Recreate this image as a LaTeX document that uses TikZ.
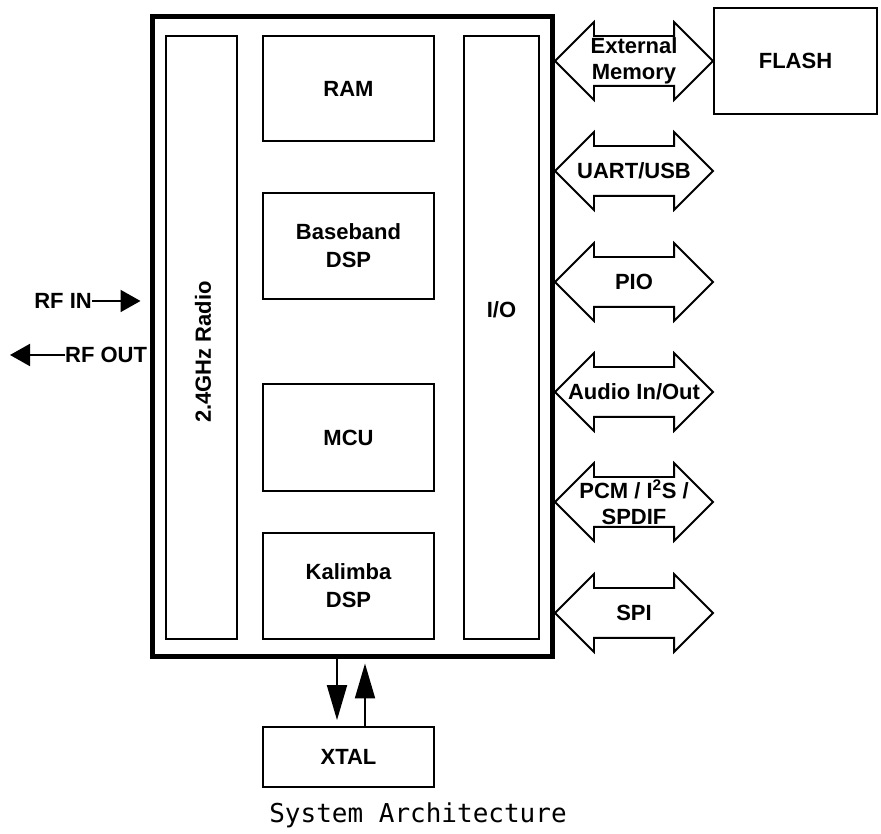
\documentclass[tikz,border=0pt]{standalone}
\usepackage{fontspec}
\setmainfont{Liberation Sans}
\newfontfamily\capfont{DejaVu Sans Mono}
\usetikzlibrary{arrows.meta,calc,positioning,shapes.arrows}

\begin{document}
\begin{tikzpicture}[x=1pt,y=1pt,
  blk/.style={draw,line width=2.2pt,inner sep=0pt,align=center,font=\bfseries\fontsize{22}{28}\selectfont},
  bus/.style={double arrow,draw,line width=1.8pt,inner xsep=0pt,inner ysep=24pt,minimum height=158pt,double arrow head extend=14pt},
  lbl/.style={inner sep=0pt,align=center,font=\bfseries\fontsize{22}{26}\selectfont}]
\useasboundingbox (0,0) rectangle (881,834);
% chip outline and blocks
\node[draw,line width=5pt,minimum width=400pt,minimum height=640pt] (chip) at (352,497) {};
\node[blk,minimum width=71pt,minimum height=603pt] (radio) at (201.5,496.5) {};
\node[blk,minimum width=75pt,minimum height=603pt] (io) at (501.5,496.5) {};
\node[blk,minimum width=171pt,minimum height=105pt] (ram) at (348.5,745.5) {RAM};
\node[blk,minimum width=171pt,minimum height=106pt] (bb) at (348.5,588) {Baseband\\DSP};
\node[blk,minimum width=171pt,minimum height=107pt] (mcu) at (348.5,396.5) {MCU};
\node[blk,minimum width=171pt,minimum height=106pt] (kal) at (348.5,248) {Kalimba\\DSP};
\node[lbl,rotate=90] (radiolbl) at (203,482) {2.4GHz Radio};
\node[lbl] (iolbl) at (501.5,524) {I/O};
% external parts
\node[blk,line width=1.8pt,minimum width=163pt,minimum height=106pt] (flash) at (795.5,773) {FLASH};
\node[blk,line width=1.8pt,minimum width=171pt,minimum height=60pt] (xtal) at (348.5,77) {XTAL};
% buses
\node[bus] (ext) at (634,773) {};
\node[bus] (uart) at (634,663) {};
\node[bus] (pio) at (634,552) {};
\node[bus] (audio) at (634,442) {};
\node[bus] (pcm) at (634,332) {};
\node[bus] (spi) at (634,221) {};
\node[lbl] at (ext) {External\\Memory};
\node[lbl] at (uart) {UART/USB};
\node[lbl] at (pio) {PIO};
\node[lbl] at (audio) {Audio In/Out};
\node[lbl] at (pcm) {PCM / I\textsuperscript{2}S /\\SPDIF};
\node[lbl] at (spi) {SPI};
% RF
\node[lbl,anchor=east] (rfin) at (92,533) {RF IN};
\node[lbl,anchor=west] (rfout) at (65,479) {RF OUT};
\coordinate (rfo) at (10,479);
\draw[-{Triangle[length=20pt,width=22pt]},line width=2pt] (rfin.east) -- ($(rfin.east -| chip.west)+(-9,0)$);
\draw[-{Triangle[length=20pt,width=22pt]},line width=2pt] (rfout.west) -- (rfo);
% clock
\draw[-{Triangle[length=35pt,width=20pt]},line width=2pt] ([xshift=-11.5pt]xtal.north |- chip.south) -- ([xshift=-11.5pt,yshift=6pt]xtal.north);
\draw[-{Triangle[length=35pt,width=20pt]},line width=2pt] ([xshift=16.5pt]xtal.north) -- ([xshift=16.5pt,yshift=-4pt]xtal.north |- chip.south);
\node[font=\capfont\fontsize{26}{30}\selectfont] (cap) at (418,19) {System Architecture};
\end{tikzpicture}
\end{document}
